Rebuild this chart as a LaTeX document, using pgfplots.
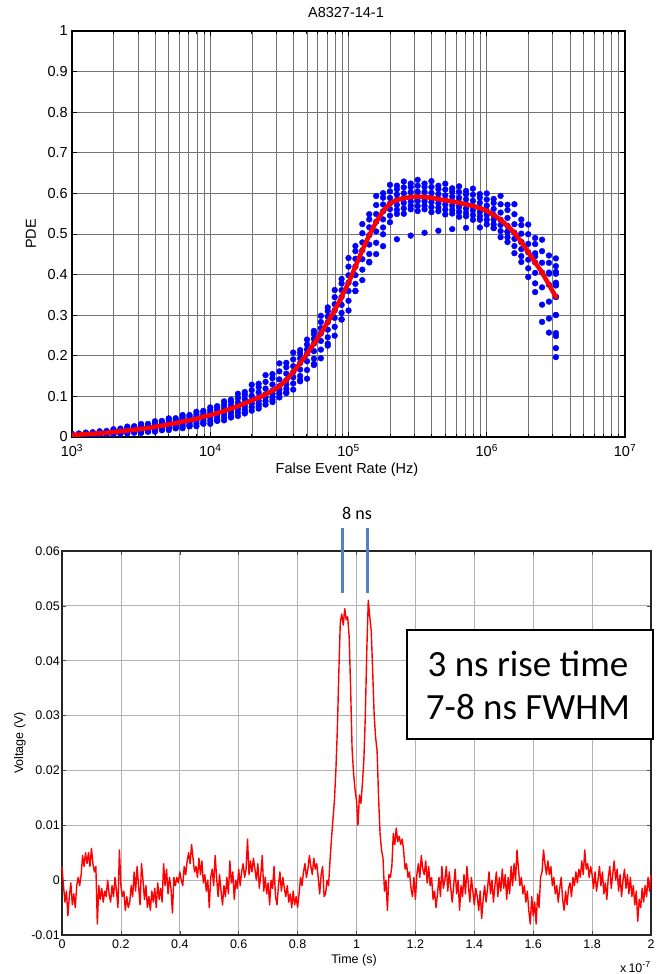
\documentclass[border=0pt]{standalone}
\usepackage{pgfplots}
\pgfplotsset{compat=1.18}
\usepackage{pgfplotstable}
\usepackage{fontspec}
\setmainfont{Liberation Sans}
\newfontfamily\calibri{Carlito}
\definecolor{barblue}{RGB}{84,130,190}

\pgfplotstableread{
x c1 d1 c3 d2 c5 d3 c7
1000 .0075 .0066 .0058 .0050 .0043 .0034 .0025
1259 .0108 .0095 .0081 .0070 .0060 .0047 .0035
1585 .0142 .0124 .0106 .0090 .0077 .0061 .0045
1995 .0192 .0167 .0142 .0120 .0102 .0081 .0060
2512 .0256 .0222 .0189 .0160 .0136 .0108 .0080
3162 .0320 .0278 .0236 .0200 .0170 .0135 .0100
3981 .0388 .0339 .0291 .0250 .0214 .0172 .0130
5012 .0459 .0407 .0355 .0310 .0268 .0219 .0171
6310 .0540 .0484 .0428 .0380 .0331 .0274 .0217
7943 .0621 .0561 .0501 .0450 .0395 .0330 .0266
10000 .0729 .0663 .0597 .0540 .0475 .0400 .0324
12589 .0877 .0794 .0711 .0640 .0571 .0490 .0410
15849 .1064 .0958 .0851 .0760 .0687 .0602 .0517
19953 .1287 .1152 .1016 .0900 .0824 .0736 .0648
25119 .1523 .1357 .1192 .1050 .0974 .0886 .0798
31623 .1813 .1616 .1419 .1250 .1168 .1071 .0975
39811 .2080 .1912 .1744 .1600 .1470 .1319 .1168
50119 .2399 .2277 .2155 .2050 .1866 .1650 .1435
63096 .2984 .2832 .2680 .2550 .2366 .2152 .1938
79433 .3619 .3444 .3270 .3120 .2933 .2714 .2496
100000 .4408 .4195 .3982 .3800 .3595 .3355 .3116
125893 .5244 .5019 .4793 .4600 .4379 .4122 .3864
158489 .5936 .5713 .5491 .5300 .5062 .4783 .4505
199526 .6210 .6049 .5888 .5750 .5612 .5451 .5290
251189 .6292 .6148 .6003 .5880 .5765 .5632 .5498
316228 .6334 .6189 .6044 .5920 .5813 .5689 .5565
398107 .6302 .6158 .6014 .5890 .5784 .5660 .5537
501187 .6238 .6095 .5952 .5830 .5725 .5603 .5480
630957 .6174 .6033 .5891 .5770 .5666 .5545 .5424
794328 .6117 .5967 .5818 .5690 .5588 .5468 .5349
1000000 .5999 .5849 .5699 .5570 .5470 .5353 .5236
1258925 .5939 .5733 .5527 .5350 .5222 .5072 .4922
1584893 .5734 .5488 .5241 .5030 .4879 .4703 .4527
1995262 .5233 .4994 .4755 .4550 .4367 .4154 .3940
2511886 .4860 .4577 .4293 .4050 .3686 .3260 .2835
3162278 .4399 .4067 .3735 .3450 .3005 .2486 .1967
}\tabA

\pgfplotstableread{
x e1 c2 e2 c4 e3 c6 e4 c8
1122 .0085 .0079 .0069 .0060 .0051 .0042 .0035 .0040
1413 .0116 .0107 .0093 .0080 .0068 .0056 .0046 .0060
1778 .0148 .0136 .0118 .0100 .0085 .0070 .0058 .0070
2239 .0207 .0190 .0165 .0140 .0119 .0098 .0081 .0100
2818 .0266 .0245 .0212 .0180 .0153 .0126 .0104 .0120
3548 .0322 .0297 .0258 .0220 .0188 .0155 .0128 .0140
4467 .0396 .0367 .0324 .0280 .0241 .0201 .0168 .0180
5623 .0462 .0432 .0386 .0340 .0295 .0250 .0213 .0220
7079 .0541 .0508 .0459 .0410 .0358 .0307 .0264 .0270
8913 .0644 .0608 .0554 .0500 .0440 .0380 .0330 .0330
11220 .0760 .0717 .0654 .0590 .0523 .0455 .0399 .0400
14125 .0918 .0864 .0782 .0700 .0629 .0557 .0498 .0480
17783 .1109 .1039 .0935 .0830 .0755 .0681 .0618 .0580
22387 .1311 .1226 .1098 .0970 .0894 .0819 .0756 .0700
28184 .1550 .1448 .1294 .1140 .1061 .0983 .0917 .0860
35481 .1826 .1719 .1560 .1400 .1295 .1190 .1103 .1080
44668 .2140 .2060 .1940 .1820 .1662 .1503 .1371 .1400
56234 .2613 .2535 .2417 .2300 .2114 .1927 .1772 .1800
70795 .3192 .3102 .2966 .2830 .2643 .2456 .2301 .2250
89125 .3892 .3781 .3616 .3450 .3253 .3057 .2893 .2900
112202 .4704 .4578 .4389 .4200 .3986 .3772 .3593 .3600
141254 .5487 .5358 .5164 .4970 .4739 .4508 .4314 .4300
177828 .6005 .5894 .5727 .5560 .5360 .5160 .4993 .4700
223872 .6190 .6103 .5971 .5840 .5717 .5595 .5493 .4870
281838 .6241 .6158 .6034 .5910 .5804 .5697 .5609 .4960
354813 .6241 .6158 .6034 .5910 .5804 .5697 .5609 .5030
446684 .6188 .6106 .5983 .5860 .5755 .5649 .5561 .5080
562341 .6125 .6044 .5922 .5800 .5696 .5591 .5504 .5120
707946 .6060 .5978 .5854 .5730 .5627 .5524 .5438 .5150
891251 .5983 .5897 .5769 .5640 .5538 .5437 .5352 .5160
1122018 .5864 .5765 .5618 .5470 .5355 .5240 .5145 .5150
1412538 .5720 .5590 .5395 .5200 .5060 .4919 .4802 .5050
1778279 .5357 .5218 .5009 .4800 .4627 .4454 .4310 .4800
2238721 .4902 .4752 .4526 .4300 .4042 .3784 .3569 .4450
2818383 .4470 .4290 .4020 .3750 .3334 .2918 .2571 .4050
3162278 .4209 .4019 .3735 .3450 .3005 .2560 .2189 .3800
}\tabB

\pgfplotstableread{
x pde
1000 .005
1122 .006
1259 .007
1413 .008
1585 .009
1778 .010
1995 .012
2239 .014
2512 .016
2818 .018
3162 .020
3548 .022
3981 .025
4467 .028
5012 .031
5623 .034
6310 .038
7079 .041
7943 .045
8913 .050
10000 .054
11220 .059
12589 .064
14125 .070
15849 .076
17783 .083
19953 .090
22387 .097
25119 .105
28184 .114
31623 .125
35481 .140
39811 .160
44668 .182
50119 .205
56234 .230
63096 .255
70795 .283
79433 .312
89125 .345
100000 .380
112202 .420
125893 .460
141254 .497
158489 .530
177828 .556
199526 .575
223872 .584
251189 .588
281838 .591
316228 .592
354813 .591
398107 .589
446684 .586
501187 .583
562341 .580
630957 .577
707946 .573
794328 .569
891251 .564
1000000 .557
1122018 .547
1258925 .535
1412538 .520
1584893 .503
1778279 .480
1995262 .455
2238721 .430
2511886 .405
2818383 .375
3162278 .345
}\tabR

\begin{document}
\begin{tikzpicture}[x=1pt,y=1pt]
\path[use as bounding box] (0,0) rectangle (658,974);

% ---------------- top plot ----------------
\begin{axis}[
  at={(72pt,537pt)}, anchor=south west,
  width=553pt, height=406pt, scale only axis,
  xmode=log, xmin=1e3, xmax=1e7, ymin=0, ymax=1,
  xtick={1e3,1e4,1e5,1e6,1e7},
  xticklabels={10\textsuperscript{3},10\textsuperscript{4},10\textsuperscript{5},10\textsuperscript{6},10\textsuperscript{7}},
  ytick={0,0.1,0.2,0.3,0.4,0.5,0.6,0.7,0.8,0.9,1},
  yticklabels={0,0.1,0.2,0.3,0.4,0.5,0.6,0.7,0.8,0.9,1},
  grid=both,
  major grid style={black!55, line width=0.7pt},
  minor grid style={black!55, line width=0.7pt},
  axis line style={black, line width=2pt},
  tick align=inside, major tick length=5pt, minor tick length=3pt,
  tick style={black, line width=0.8pt},
  tick label style={font=\fontsize{14.5}{17}\selectfont, inner sep=0pt},
  yticklabel style={xshift=-4pt},
  xticklabel style={yshift=-7pt},
  clip marker paths=true,
  dots/.style={only marks, mark=*, mark size=2.9pt, color=blue},
]
\addplot[dots] table[x=x,y=c1]{\tabA};
\addplot[dots] table[x=x,y=d1]{\tabA};
\addplot[dots] table[x=x,y=c3]{\tabA};
\addplot[dots] table[x=x,y=d2]{\tabA};
\addplot[dots] table[x=x,y=c5]{\tabA};
\addplot[dots] table[x=x,y=d3]{\tabA};
\addplot[dots] table[x=x,y=c7]{\tabA};
\addplot[dots] table[x=x,y=e1]{\tabB};
\addplot[dots] table[x=x,y=c2]{\tabB};
\addplot[dots] table[x=x,y=e2]{\tabB};
\addplot[dots] table[x=x,y=c4]{\tabB};
\addplot[dots] table[x=x,y=e3]{\tabB};
\addplot[dots] table[x=x,y=c6]{\tabB};
\addplot[dots] table[x=x,y=e4]{\tabB};
\addplot[dots] table[x=x,y=c8]{\tabB};
\addplot[red, line width=4.5pt, line join=round, line cap=round] table[x=x,y=pde]{\tabR};
\end{axis}

\node[font=\fontsize{14.5}{17}\selectfont] at (346,961) {A8327-14-1};
\node[font=\fontsize{14.5}{17}\selectfont, rotate=90] at (31,740) {PDE};
\node[font=\fontsize{14.5}{17}\selectfont] at (347,504) {False Event Rate (Hz)};

% ---------------- bottom plot ----------------
\begin{axis}[
  at={(62pt,39pt)}, anchor=south west,
  width=589pt, height=384pt, scale only axis,
  xmin=0, xmax=2, ymin=-10, ymax=60,
  xtick={0,0.2,0.4,0.6,0.8,1,1.2,1.4,1.6,1.8,2},
  xticklabels={0,0.2,0.4,0.6,0.8,1,1.2,1.4,1.6,1.8,2},
  ytick={-10,0,10,20,30,40,50,60},
  yticklabels={-0.01,0,0.01,0.02,0.03,0.04,0.05,0.06},
  grid=major,
  major grid style={black!30, line width=0.8pt},
  axis line style={black!85, line width=1.2pt},
  tick align=inside, major tick length=4pt,
  tick style={black!70, line width=0.6pt},
  tick label style={font=\fontsize{12.5}{15}\selectfont, inner sep=0pt},
  yticklabel style={xshift=-2pt},
  xticklabel style={yshift=-5pt},
  clip=false,
]
\addplot[red, line width=1.4pt, line join=round] coordinates {
(0,2.5)(0.005,-1)(0.01,-4)(0.015,-2)(0.02,-6.5)(0.025,-3)(0.03,-0.5)(0.035,-4.5)(0.04,-2.5)(0.045,-5)
(0.05,-1)(0.055,0.5)(0.06,-1)(0.065,1)(0.07,4.5)(0.075,2.5)(0.08,5)(0.085,3)(0.09,5)(0.095,2.5)
(0.1,5.8)(0.105,3)(0.11,1.5)(0.115,2.5)(0.12,-8)(0.125,-1)(0.13,-3.5)(0.135,-1.5)(0.14,-4)(0.145,-2)
(0.15,-3)(0.155,0)(0.16,-2.5)(0.165,-4)(0.17,-1)(0.175,-3)(0.18,0.5)(0.185,-2)(0.19,-5)(0.195,5.5)
(0.2,-1)(0.205,-3)(0.21,-2)(0.215,-5.5)(0.22,-3)(0.225,-5)(0.23,-4)(0.235,-1)(0.24,-3)(0.245,1.5)
(0.25,-2)(0.255,2.5)(0.26,-1)(0.265,-4.5)(0.27,3)(0.275,0)(0.28,-3.5)(0.285,-1)(0.29,-5)(0.295,-3)
(0.3,-5.5)(0.305,-2)(0.31,-4)(0.315,-1.5)(0.32,-5)(0.325,-0.5)(0.33,-3.5)(0.335,-1.5)(0.34,-4)(0.345,3)
(0.35,-1)(0.355,2)(0.36,-2.5)(0.365,0.5)(0.37,-1.5)(0.375,-6)(0.38,0.5)(0.385,-1)(0.39,0.5)(0.395,-0.5)
(0.4,1.5)(0.405,0)(0.41,-1)(0.415,2.5)(0.42,1)(0.425,3.5)(0.43,5)(0.435,3)(0.44,6.5)(0.445,4)
(0.45,1.5)(0.455,2.5)(0.46,0.5)(0.465,4)(0.47,1)(0.475,3.5)(0.48,-0.5)(0.485,1)(0.49,-2)(0.495,0)
(0.5,-5)(0.505,0.5)(0.51,2)(0.515,-1)(0.52,4.5)(0.525,0.5)(0.53,-3)(0.535,1)(0.54,-2)(0.545,-4.5)
(0.55,-1)(0.555,-3)(0.56,0.5)(0.565,-2.5)(0.57,3.5)(0.575,-0.5)(0.58,1.5)(0.585,-3.5)(0.59,0)(0.595,-1.5)
(0.6,2)(0.605,-1)(0.61,1.5)(0.615,3)(0.62,0.5)(0.625,2)(0.63,7.5)(0.635,1)(0.64,3.5)(0.645,1.5)
(0.65,4)(0.655,2)(0.66,0)(0.665,3)(0.67,-1.5)(0.675,1)(0.68,4.5)(0.685,-2)(0.69,0.5)(0.695,-2.5)
(0.7,-0.5)(0.705,-4.5)(0.71,0)(0.715,-1.5)(0.72,2.5)(0.725,-3)(0.73,-4.5)(0.735,-1)(0.74,1.5)(0.745,-2)
(0.75,0.5)(0.755,-1.5)(0.76,-3)(0.765,-1)(0.77,-4)(0.775,-2.5)(0.78,-5)(0.785,-2)(0.79,-4.5)(0.795,-3)
(0.8,-5)(0.805,-2.5)(0.81,0.5)(0.815,-1)(0.82,1.5)(0.825,3)(0.83,0.5)(0.835,2)(0.84,4.5)(0.845,2.5)
(0.85,1)(0.855,4)(0.86,2)(0.865,3)(0.87,0.5)(0.875,-2.5)(0.88,1)(0.885,2.5)(0.89,-3)(0.895,-2.5)
(0.9,0)(0.905,-1)(0.91,3.5)(0.915,7.5)(0.92,11)(0.925,14.5)(0.93,20)(0.935,27.5)(0.94,38)(0.945,47)
(0.95,48.5)(0.955,46.5)(0.96,49.5)(0.965,47.5)(0.97,48)(0.975,44.5)(0.98,35)(0.985,24)(0.99,19.5)(0.995,16.5)
(1,14.5)(1.005,10)(1.01,15.5)(1.015,14)(1.02,17.5)(1.025,22)(1.03,30)(1.035,42)(1.04,51)(1.045,48)
(1.05,45.5)(1.055,38)(1.06,30)(1.065,26)(1.07,23.5)(1.075,15)(1.08,8.5)(1.085,5.5)(1.09,4)(1.095,-2)
(1.1,0)(1.105,-5.5)(1.11,1)(1.115,0.5)(1.12,2.5)(1.125,8.5)(1.13,6.5)(1.135,9.5)(1.14,7)(1.145,8)
(1.15,6.5)(1.155,7.5)(1.16,5.5)(1.165,2)(1.17,3)(1.175,0.5)(1.18,1.5)(1.185,-1.5)(1.19,-3)(1.195,0.5)
(1.2,-3.5)(1.205,1)(1.21,3)(1.215,0.5)(1.22,4.5)(1.225,2)(1.23,1)(1.235,3.5)(1.24,-0.5)(1.245,2.5)
(1.25,-1)(1.255,0.5)(1.26,-3.5)(1.265,-2)(1.27,-5)(1.275,-2.5)(1.28,0.5)(1.285,-3)(1.29,2.5)(1.295,-1.5)
(1.3,0)(1.305,2.5)(1.31,-2)(1.315,1.5)(1.32,-1.5)(1.325,-4)(1.33,-1)(1.335,2)(1.34,-2.5)(1.345,0)
(1.35,-5.5)(1.355,-1)(1.36,-3)(1.365,1)(1.37,-2.5)(1.375,2.5)(1.38,-1)(1.385,-4)(1.39,0.5)(1.395,-2)
(1.4,-4.5)(1.405,-1.5)(1.41,-3)(1.415,-5.5)(1.42,-2)(1.425,-7)(1.43,-3.5)(1.435,-1)(1.44,-4)(1.445,-1.5)
(1.45,1.5)(1.455,-2.5)(1.46,0)(1.465,-4)(1.47,-1)(1.475,1.5)(1.48,-3)(1.485,0.5)(1.49,-2)(1.495,2)
(1.5,-1.5)(1.505,1)(1.51,-3.5)(1.515,0.5)(1.52,-2.5)(1.525,2.5)(1.53,-1)(1.535,3)(1.54,0)(1.545,5.5)
(1.55,2)(1.555,-1)(1.56,0.5)(1.565,-2.5)(1.57,-1)(1.575,-4)(1.58,-2)(1.585,-5.5)(1.59,-8)(1.595,-3)
(1.6,-6.5)(1.605,-4)(1.61,-8)(1.615,-2.5)(1.62,-5)(1.625,0.5)(1.63,1.5)(1.635,5.5)(1.64,3)(1.645,1)
(1.65,3.5)(1.655,1)(1.66,2.5)(1.665,-1)(1.67,0.5)(1.675,-2.5)(1.68,-1)(1.685,-4)(1.69,-1.5)(1.695,0.5)
(1.7,-3.5)(1.705,-5.5)(1.71,-2)(1.715,-4.5)(1.72,-1.5)(1.725,-0.5)(1.73,-3)(1.735,0.5)(1.74,-1)(1.745,1.5)
(1.75,-0.5)(1.755,2)(1.76,0.5)(1.765,3.5)(1.77,1)(1.775,5.5)(1.78,2)(1.785,3)(1.79,0.5)(1.795,2.5)
(1.8,1)(1.805,-1.5)(1.81,1.5)(1.815,-2)(1.82,0)(1.825,2.5)(1.83,-1)(1.835,1.5)(1.84,-2.5)(1.845,-0.5)
(1.85,-3.5)(1.855,0.5)(1.86,2.5)(1.865,-1.5)(1.87,1)(1.875,3.5)(1.88,0)(1.885,2)(1.89,-2)(1.895,1)
(1.9,-3)(1.905,0)(1.91,2)(1.915,-1.5)(1.92,1)(1.925,-2.5)(1.93,0.5)(1.935,-3)(1.94,-1)(1.945,-4.5)
(1.95,-2)(1.955,-7.5)(1.96,-3.5)(1.965,-5)(1.97,-1.5)(1.975,-4)(1.98,-1)(1.985,-3)(1.99,0.5)(1.995,-2)(2,1)
};
\draw[barblue, line width=3pt] (axis cs:0.954,52.3) -- (axis cs:0.954,64.2);
\draw[barblue, line width=3pt] (axis cs:1.039,52.3) -- (axis cs:1.039,64.2);
\end{axis}

\node[font=\fontsize{12.5}{15}\selectfont, rotate=90] at (20,231) {Voltage (V)};
\node[font=\fontsize{12.5}{15}\selectfont] at (354,14) {Time (s)};
\node[font=\fontsize{12.5}{15}\selectfont, anchor=west, inner sep=0pt] at (620,7) {x\,10\textsuperscript{-7}};

\node[font=\calibri\fontsize{18}{21}\selectfont] at (357,461) {8 ns};

\node[draw=black, line width=1.6pt, fill=white, minimum width=246pt, minimum height=109pt, inner sep=0pt] at (530,289.5) {};
\node[font=\calibri\fontsize{37}{44}\selectfont, anchor=base] at (528,297) {3 ns rise time};
\node[font=\calibri\fontsize{37}{44}\selectfont, anchor=base] at (528,254) {7-8 ns FWHM};
\end{tikzpicture}
\end{document}
